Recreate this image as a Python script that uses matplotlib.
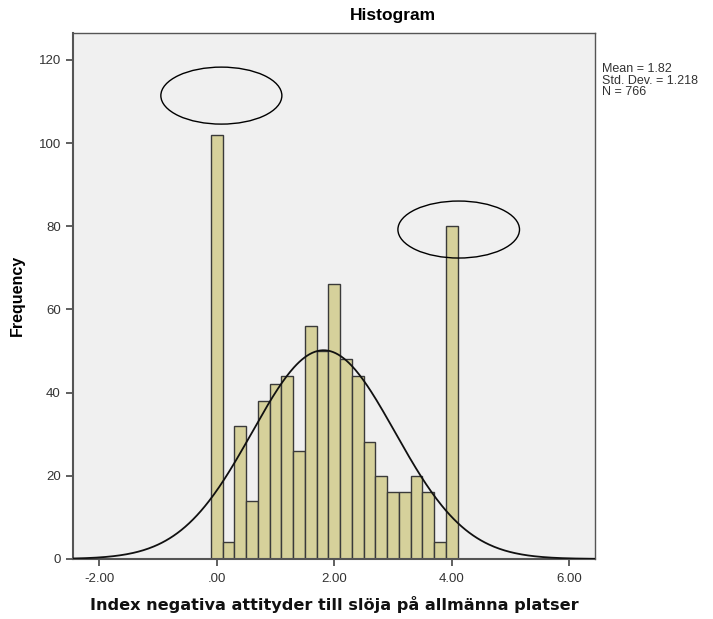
import numpy as np
import matplotlib
matplotlib.use('Agg')
import matplotlib.pyplot as plt
from matplotlib.patches import Ellipse

# Histogram data (bin centres, width 0.2)
bin_centers = [0.0, 0.2, 0.4, 0.6, 0.8, 1.0, 1.2, 1.4, 1.6, 1.8, 2.0,
               2.2, 2.4, 2.6, 2.8, 3.0, 3.2, 3.4, 3.6, 3.8, 4.0]
counts = [102, 4, 32, 14, 38, 42, 44, 26, 56, 50, 66,
          48, 44, 28, 20, 16, 16, 20, 16, 4, 80]
bin_width = 0.2
mean, sd, n = 1.82, 1.218, 766

xticks = [-2, 0, 2, 4, 6]
xticklabels = ['-2.00', '.00', '2.00', '4.00', '6.00']
yticks = [0, 20, 40, 60, 80, 100, 120]

# annotation ellipses (centre x, centre y, width, height) in data units
ellipses = [(0.08, 111.4, 2.06, 13.7), (4.12, 79.2, 2.07, 13.7)]

plt.rcParams['font.family'] = ['Liberation Sans', 'DejaVu Sans']

fig = plt.figure(figsize=(7.13, 6.19), dpi=100)
ax = fig.add_axes([0.102, 0.097, 0.7325, 0.85])
ax.set_facecolor('#F0F0F0')

ax.bar(bin_centers, counts, width=bin_width, color='#D6D19B',
       edgecolor='#3a3a3a', linewidth=1.0, zorder=2)

xs = np.linspace(-2.45, 6.44, 400)
ys = n * bin_width / (sd * np.sqrt(2 * np.pi)) * np.exp(-0.5 * ((xs - mean) / sd) ** 2)
ax.plot(xs, ys, color='#111111', linewidth=1.3, zorder=3)

for cx, cy, w, h in ellipses:
    ax.add_patch(Ellipse((cx, cy), w, h, facecolor='none', edgecolor='black',
                         linewidth=1.0, zorder=4, clip_on=False))

ax.set_xlim(-2.45, 6.44)
ax.set_ylim(0, 126.5)
ax.set_xticks(xticks)
ax.set_xticklabels(xticklabels)
ax.set_yticks(yticks)
ax.tick_params(axis='both', direction='out', length=5, width=1.2,
               color='#444444', labelsize=9.5, labelcolor='#333333')
ax.tick_params(axis='x', pad=5)
for s in ax.spines.values():
    s.set_color('#555555')
    s.set_linewidth(1.0)
ax.spines['left'].set_linewidth(1.5)
ax.spines['bottom'].set_linewidth(1.5)

ax.set_ylabel('Frequency', fontsize=11.5, fontweight='bold', labelpad=10)
ax.set_xlabel('Index negativa attityder till slöja på allmänna platser',
              fontsize=11.6, fontweight='bold', family=['DejaVu Sans'], labelpad=8,
              color='#111111')

fig.text(0.551, 0.975, 'Histogram', ha='center', va='center',
         fontsize=12.5, fontweight='bold')
fig.text(0.845, 0.898, 'Mean = 1.82\nStd. Dev. = 1.218\nN = 766',
         ha='left', va='top', fontsize=9, color='#333333', linespacing=0.95)

fig.savefig('out.png', dpi=100, facecolor='white')
